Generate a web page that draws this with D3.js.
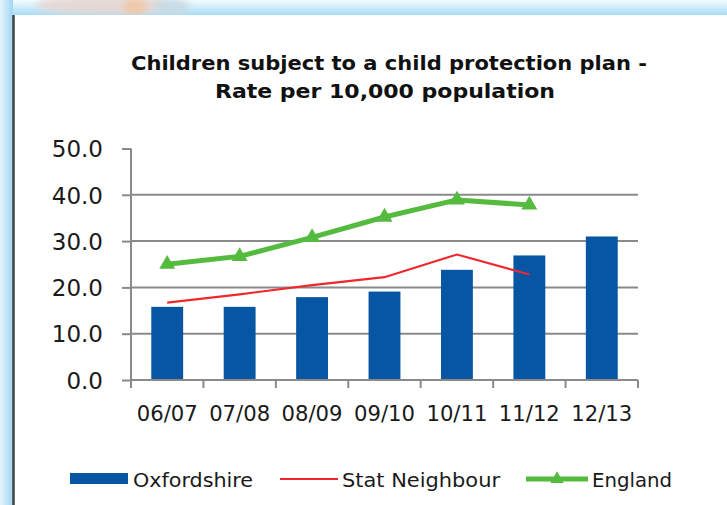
<!DOCTYPE html>
<html><head><meta charset="utf-8">
<script src="https://cdnjs.cloudflare.com/ajax/libs/d3/7.8.5/d3.min.js"></script>
<style>
html,body{margin:0;padding:0;background:#fff;}
svg{display:block;}
</style></head>
<body><svg id="c" width="727" height="505"></svg>
<script>
const categories = ["06/07","07/08","08/09","09/10","10/11","11/12","12/13"];
const oxfordshire = [15.8, 15.8, 17.9, 19.1, 23.8, 26.9, 31.0];
const statNeighbour = [16.7, 18.5, 20.5, 22.2, 27.1, 22.8];
const england = [25.0, 26.7, 30.8, 35.2, 38.9, 37.8];
const yTicks = [0,10,20,30,40,50];
const titleLines = ["Children subject to a child protection plan -", "Rate per 10,000 population"];
const legendNames = ["Oxfordshire","Stat Neighbour","England"];

const svg = d3.select("#c");
const W = 727, H = 505;

// frame decoration
const defs = svg.append("defs");
const g1 = defs.append("linearGradient").attr("id","topg").attr("x1",0).attr("y1",0).attr("x2",0).attr("y2",1);
g1.append("stop").attr("offset","0%").attr("stop-color","#f4fbfe");
g1.append("stop").attr("offset","100%").attr("stop-color","#a9dcf5");
const g2 = defs.append("linearGradient").attr("id","leftg").attr("x1",0).attr("y1",0).attr("x2",1).attr("y2",0);
g2.append("stop").attr("offset","0%").attr("stop-color","#e6f5fc");
g2.append("stop").attr("offset","100%").attr("stop-color","#9fd6f2");
const blur = defs.append("filter").attr("id","bl").attr("x","-50%").attr("y","-50%").attr("width","200%").attr("height","200%");
blur.append("feGaussianBlur").attr("stdDeviation",3);

svg.append("rect").attr("x",0).attr("y",0).attr("width",W).attr("height",15).attr("fill","url(#topg)");
svg.append("rect").attr("x",0).attr("y",0).attr("width",13).attr("height",H).attr("fill","url(#leftg)");
const deco = svg.append("g").attr("filter","url(#bl)");
deco.append("ellipse").attr("cx",110).attr("cy",5).attr("rx",75).attr("ry",10).attr("fill","#e6d6d2").attr("opacity",0.9);
deco.append("ellipse").attr("cx",135).attr("cy",7).attr("rx",12).attr("ry",9).attr("fill","#f2c8a6").attr("opacity",0.9);
deco.append("ellipse").attr("cx",172).attr("cy",7).attr("rx",18).attr("ry",8).attr("fill","#c6dbe6").attr("opacity",0.9);
svg.append("rect").attr("x",13).attr("y",15).attr("width",W-13).attr("height",H-15).attr("fill","#fff");
svg.append("line").attr("x1",13.5).attr("x2",13.5).attr("y1",15).attr("y2",H).attr("stroke","#444").attr("stroke-width",2.5);

// title
const title = svg.append("text").attr("text-anchor","middle")
  .attr("font-family","'DejaVu Sans Condensed','DejaVu Sans',sans-serif").attr("font-weight","bold")
  .attr("font-size",20).attr("fill","#111");
title.append("tspan").attr("x",389).attr("y",70).attr("textLength",516).attr("lengthAdjust","spacingAndGlyphs").text(titleLines[0]);
title.append("tspan").attr("x",385).attr("y",98).attr("textLength",340).attr("lengthAdjust","spacingAndGlyphs").text(titleLines[1]);

// scales
const x = d3.scaleBand().domain(categories).range([131,638]);
const y = d3.scaleLinear().domain([0,50]).range([380,148.5]);
const grid = "#8a8a8a";

// gridlines (not at 50)
svg.append("g").selectAll("line").data(yTicks.filter(t=>t>0 && t<50)).join("line")
  .attr("x1",131).attr("x2",638).attr("y1",d=>y(d)).attr("y2",d=>y(d))
  .attr("stroke",grid).attr("stroke-width",2);

// y axis
const yAxis = svg.append("g").attr("transform","translate(131,0)")
  .call(d3.axisLeft(y).tickValues(yTicks).tickFormat(d3.format(".1f")).tickSize(9).tickPadding(20));
yAxis.select(".domain").attr("stroke",grid).attr("stroke-width",2).attr("d","M0,148.5V380");
yAxis.selectAll(".tick line").attr("stroke",grid).attr("stroke-width",2);
yAxis.selectAll(".tick text").attr("font-family","'DejaVu Sans',sans-serif").attr("font-size",23).attr("fill","#1a1a1a").attr("dy","0.36em").attr("x",-28);

// bars
const bw = x.bandwidth()*0.44;
svg.append("g").selectAll("rect").data(oxfordshire).join("rect")
  .attr("x",(d,i)=>x(categories[i])+x.bandwidth()/2-bw/2)
  .attr("width",bw)
  .attr("y",d=>y(d)).attr("height",d=>y(0)-y(d))
  .attr("fill","#0656a3");

// x axis
const xTickPos = d3.range(categories.length+1).map(i=>131+i*x.step());
const xAxis = svg.append("g");
xAxis.append("line").attr("x1",131).attr("x2",638).attr("y1",380).attr("y2",380).attr("stroke",grid).attr("stroke-width",2);
xAxis.selectAll("line.t").data(xTickPos).join("line").attr("class","t")
  .attr("x1",d=>d).attr("x2",d=>d).attr("y1",380).attr("y2",388).attr("stroke",grid).attr("stroke-width",2);
xAxis.selectAll("text").data(categories).join("text")
  .attr("x",d=>x(d)+x.bandwidth()/2).attr("y",421).attr("text-anchor","middle")
  .attr("font-family","'DejaVu Sans Condensed','DejaVu Sans',sans-serif").attr("font-size",21).attr("fill","#1a1a1a")
  .attr("textLength",61).attr("lengthAdjust","spacingAndGlyphs")
  .text(d=>d);

const cx = i => x(categories[i]) + x.bandwidth()/2;

// stat neighbour line
svg.append("path").datum(statNeighbour)
  .attr("d", d3.line().x((d,i)=>cx(i)).y(d=>y(d)))
  .attr("fill","none").attr("stroke","#f0282d").attr("stroke-width",2.2);

// england line
svg.append("path").datum(england)
  .attr("d", d3.line().x((d,i)=>cx(i)).y(d=>y(d)))
  .attr("fill","none").attr("stroke","#55bb3f").attr("stroke-width",5).attr("stroke-linejoin","round");
const tri = d3.symbol().type(d3.symbolTriangle).size(110);
svg.append("g").selectAll("path").data(england).join("path")
  .attr("transform",(d,i)=>`translate(${cx(i)},${y(d)})`)
  .attr("d",tri).attr("fill","#55bb3f");

// legend
const lg = svg.append("g").attr("font-family","'DejaVu Sans Condensed','DejaVu Sans',sans-serif").attr("font-size",20).attr("fill","#1a1a1a");
lg.append("rect").attr("x",70).attr("y",473).attr("width",58).attr("height",11).attr("fill","#0656a3");
lg.append("text").attr("x",133).attr("y",487).attr("textLength",120).attr("lengthAdjust","spacingAndGlyphs").text(legendNames[0]);
lg.append("line").attr("x1",280).attr("x2",338).attr("y1",479).attr("y2",479).attr("stroke","#f0282d").attr("stroke-width",2.2);
lg.append("text").attr("x",342).attr("y",487).attr("textLength",158).attr("lengthAdjust","spacingAndGlyphs").text(legendNames[1]);
lg.append("line").attr("x1",526).attr("x2",588).attr("y1",479).attr("y2",479).attr("stroke","#55bb3f").attr("stroke-width",5);
lg.append("path").attr("transform","translate(557,479)").attr("d",d3.symbol().type(d3.symbolTriangle).size(80)).attr("fill","#55bb3f");
lg.append("text").attr("x",592).attr("y",487).attr("textLength",80).attr("lengthAdjust","spacingAndGlyphs").text(legendNames[2]);
</script></body></html>
